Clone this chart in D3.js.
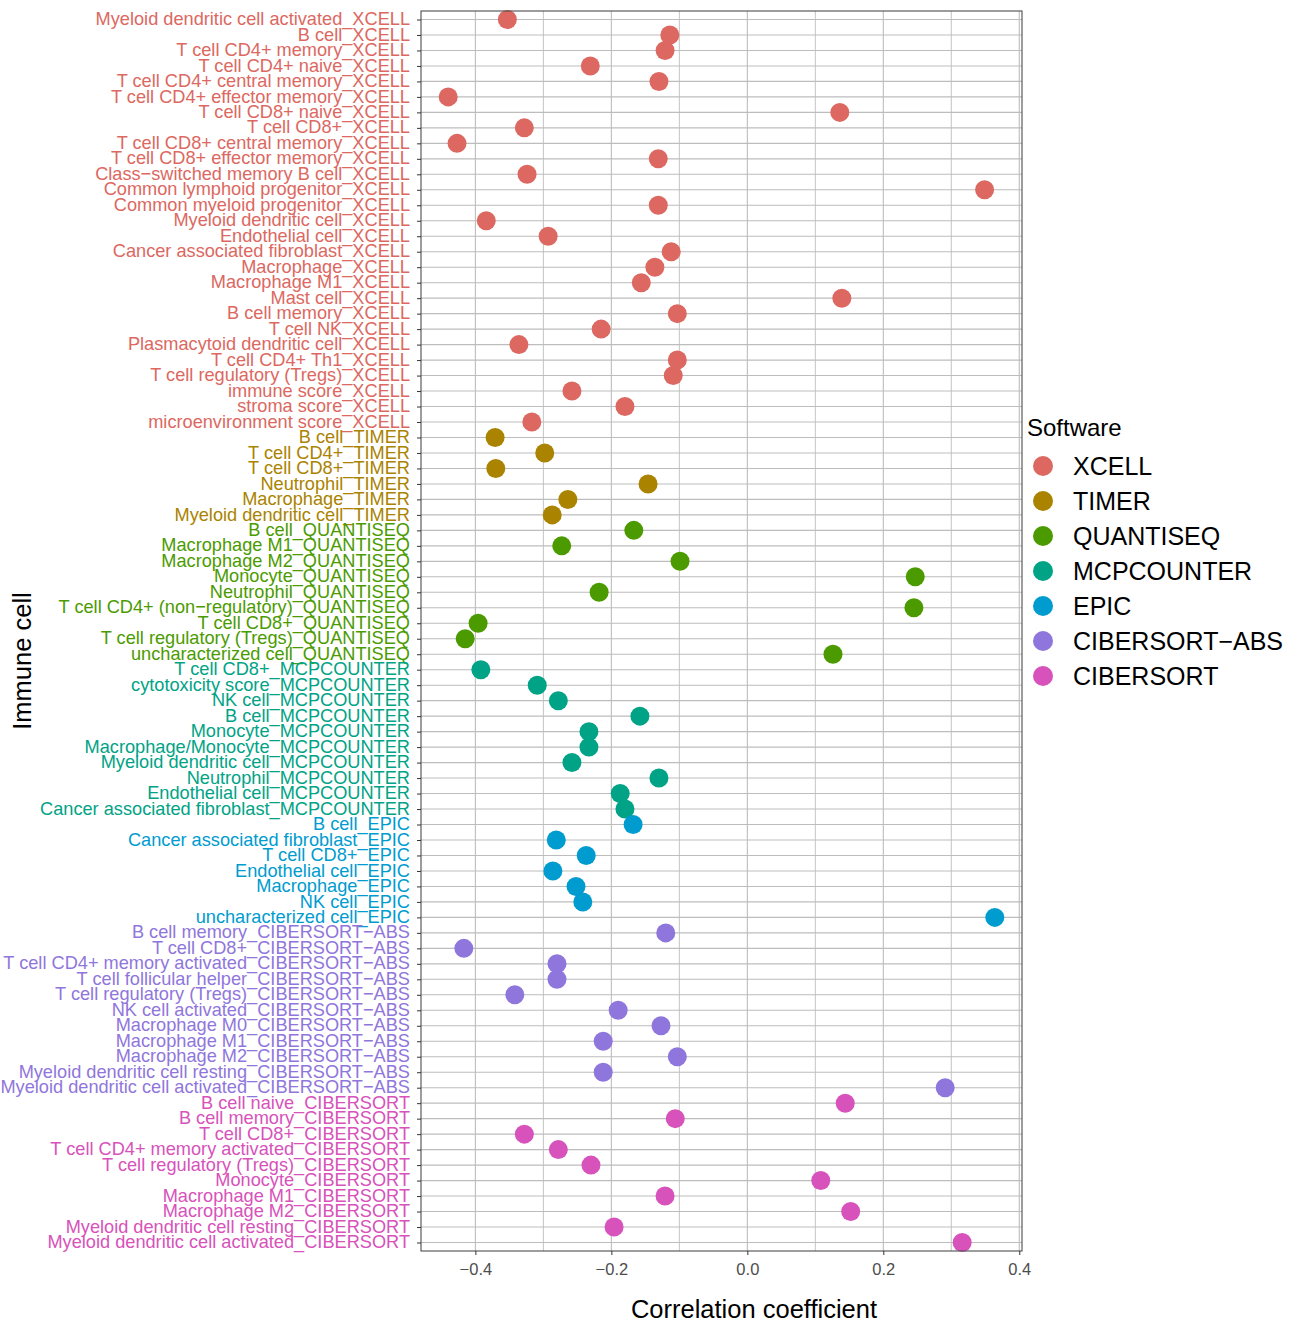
<!DOCTYPE html>
<html>
<head>
<meta charset="utf-8">
<script src="https://cdn.jsdelivr.net/npm/d3@7"></script>
<style>
  body { margin: 0; background: #fff; }
  svg { font-family: "Liberation Sans", Arial, sans-serif; }
</style>
</head>
<body>
<svg id="chart" width="1301" height="1324"></svg>
<script>
// software (legend order) and colours
const softwares = ["XCELL", "TIMER", "QUANTISEQ", "MCPCOUNTER", "EPIC", "CIBERSORT−ABS", "CIBERSORT"];
const softwareColors = ["#DC6861", "#AA8300", "#4B9B00", "#00A386", "#009CCF", "#8F76DC", "#D752BA"];

// immune cell labels, top to bottom
const cellLabels = [
  "Myeloid dendritic cell activated_XCELL", "B cell_XCELL", "T cell CD4+ memory_XCELL",
  "T cell CD4+ naive_XCELL", "T cell CD4+ central memory_XCELL", "T cell CD4+ effector memory_XCELL",
  "T cell CD8+ naive_XCELL", "T cell CD8+_XCELL", "T cell CD8+ central memory_XCELL",
  "T cell CD8+ effector memory_XCELL", "Class−switched memory B cell_XCELL", "Common lymphoid progenitor_XCELL",
  "Common myeloid progenitor_XCELL", "Myeloid dendritic cell_XCELL", "Endothelial cell_XCELL",
  "Cancer associated fibroblast_XCELL", "Macrophage_XCELL", "Macrophage M1_XCELL",
  "Mast cell_XCELL", "B cell memory_XCELL", "T cell NK_XCELL",
  "Plasmacytoid dendritic cell_XCELL", "T cell CD4+ Th1_XCELL", "T cell regulatory (Tregs)_XCELL",
  "immune score_XCELL", "stroma score_XCELL", "microenvironment score_XCELL",
  "B cell_TIMER", "T cell CD4+_TIMER", "T cell CD8+_TIMER",
  "Neutrophil_TIMER", "Macrophage_TIMER", "Myeloid dendritic cell_TIMER",
  "B cell_QUANTISEQ", "Macrophage M1_QUANTISEQ", "Macrophage M2_QUANTISEQ",
  "Monocyte_QUANTISEQ", "Neutrophil_QUANTISEQ", "T cell CD4+ (non−regulatory)_QUANTISEQ",
  "T cell CD8+_QUANTISEQ", "T cell regulatory (Tregs)_QUANTISEQ", "uncharacterized cell_QUANTISEQ",
  "T cell CD8+_MCPCOUNTER", "cytotoxicity score_MCPCOUNTER", "NK cell_MCPCOUNTER",
  "B cell_MCPCOUNTER", "Monocyte_MCPCOUNTER", "Macrophage/Monocyte_MCPCOUNTER",
  "Myeloid dendritic cell_MCPCOUNTER", "Neutrophil_MCPCOUNTER", "Endothelial cell_MCPCOUNTER",
  "Cancer associated fibroblast_MCPCOUNTER",
  "B cell_EPIC", "Cancer associated fibroblast_EPIC", "T cell CD8+_EPIC",
  "Endothelial cell_EPIC", "Macrophage_EPIC", "NK cell_EPIC", "uncharacterized cell_EPIC",
  "B cell memory_CIBERSORT−ABS", "T cell CD8+_CIBERSORT−ABS", "T cell CD4+ memory activated_CIBERSORT−ABS",
  "T cell follicular helper_CIBERSORT−ABS", "T cell regulatory (Tregs)_CIBERSORT−ABS", "NK cell activated_CIBERSORT−ABS",
  "Macrophage M0_CIBERSORT−ABS", "Macrophage M1_CIBERSORT−ABS", "Macrophage M2_CIBERSORT−ABS",
  "Myeloid dendritic cell resting_CIBERSORT−ABS", "Myeloid dendritic cell activated_CIBERSORT−ABS",
  "B cell naive_CIBERSORT", "B cell memory_CIBERSORT", "T cell CD8+_CIBERSORT",
  "T cell CD4+ memory activated_CIBERSORT", "T cell regulatory (Tregs)_CIBERSORT", "Monocyte_CIBERSORT",
  "Macrophage M1_CIBERSORT", "Macrophage M2_CIBERSORT", "Myeloid dendritic cell resting_CIBERSORT",
  "Myeloid dendritic cell activated_CIBERSORT"
];

// correlation coefficient for each label (same order)
const coefficients = [
  -0.353, -0.114, -0.121, -0.231, -0.130, -0.440, 0.136, -0.328, -0.427, -0.131,
  -0.324, 0.349, -0.131, -0.384, -0.293, -0.112, -0.136, -0.156, 0.139, -0.103,
  -0.215, -0.336, -0.103, -0.109, -0.258, -0.180, -0.317,
  -0.371, -0.298, -0.370, -0.146, -0.264, -0.287,
  -0.167, -0.273, -0.099, 0.247, -0.218, 0.245, -0.396, -0.415, 0.126,
  -0.392, -0.309, -0.278, -0.158, -0.233, -0.233, -0.258, -0.130, -0.187, -0.180,
  -0.168, -0.281, -0.237, -0.286, -0.252, -0.242, 0.364,
  -0.120, -0.417, -0.280, -0.280, -0.342, -0.190, -0.127, -0.212, -0.103, -0.212, 0.291,
  0.144, -0.106, -0.328, -0.278, -0.230, 0.108, -0.121, 0.152, -0.196, 0.316
];

const majorTicks = [-0.4, -0.2, 0.0, 0.2, 0.4];
const minorTicks = [-0.3, -0.1, 0.1, 0.3];

const softwareOf = (label) => label.slice(label.lastIndexOf("_") + 1);
const color = d3.scaleOrdinal().domain(softwares).range(softwareColors);

const rows = cellLabels.map((label, i) => ({
  label,
  value: coefficients[i],
  software: softwareOf(label),
}));

const panel = { left: 421, right: 1022, top: 11, bottom: 1251 };
const svg = d3.select("#chart");

const x = d3.scaleLinear().domain([-0.48, 0.404]).range([panel.left, panel.right]);
const y = d3.scalePoint().domain(cellLabels).range([19.5, 1242.5]);

// grid
const grid = svg.append("g");
grid.selectAll("line.minor")
  .data(minorTicks)
  .enter()
  .append("line")
  .attr("x1", (d) => x(d)).attr("x2", (d) => x(d))
  .attr("y1", panel.top).attr("y2", panel.bottom)
  .attr("stroke", "#C4C4C4").attr("stroke-width", 1);
grid.selectAll("line.major")
  .data(majorTicks)
  .enter()
  .append("line")
  .attr("x1", (d) => x(d)).attr("x2", (d) => x(d))
  .attr("y1", panel.top).attr("y2", panel.bottom)
  .attr("stroke", "#BDBDBD").attr("stroke-width", 1.1);
grid.selectAll("line.row")
  .data(cellLabels)
  .enter()
  .append("line")
  .attr("x1", panel.left).attr("x2", panel.right)
  .attr("y1", (d) => y(d)).attr("y2", (d) => y(d))
  .attr("stroke", "#BDBDBD").attr("stroke-width", 1.1);

// points
svg.append("g")
  .selectAll("circle")
  .data(rows)
  .enter()
  .append("circle")
  .attr("cx", (d) => x(d.value))
  .attr("cy", (d) => y(d.label))
  .attr("r", 9.5)
  .attr("fill", (d) => color(d.software));

// panel border
svg.append("rect")
  .attr("x", panel.left).attr("y", panel.top)
  .attr("width", panel.right - panel.left)
  .attr("height", panel.bottom - panel.top)
  .attr("fill", "none")
  .attr("stroke", "#4D4D4D")
  .attr("stroke-width", 1.1);

// x axis
const xAxis = svg.append("g")
  .attr("transform", `translate(0,${panel.bottom})`)
  .call(d3.axisBottom(x).tickValues(majorTicks).tickFormat(d3.format(".1f")).tickSizeOuter(0).tickSize(4).tickPadding(8));
xAxis.select(".domain").remove();
xAxis.selectAll("line").attr("stroke", "#333");
xAxis.selectAll("text")
  .attr("fill", "#4D4D4D")
  .style("font-size", "16.5px")
  .style("font-family", "\"Liberation Sans\", Arial, sans-serif")
  .text((d) => d3.format(".1f")(d).replace("-", "−"));

// y axis
const yAxis = svg.append("g")
  .attr("transform", `translate(${panel.left},0)`)
  .call(d3.axisLeft(y).tickSizeOuter(0).tickSize(4).tickPadding(7));
yAxis.select(".domain").remove();
yAxis.selectAll("line").attr("stroke", "#333");
yAxis.selectAll("text")
  .attr("fill", (d) => color(softwareOf(d)))
  .attr("dy", "0.28em")
  .style("font-size", "18.2px")
  .style("font-family", "\"Liberation Sans\", Arial, sans-serif");

// axis titles
svg.append("text")
  .attr("x", 754).attr("y", 1318)
  .attr("text-anchor", "middle")
  .style("font-size", "25.5px")
  .attr("fill", "#000")
  .text("Correlation coefficient");

svg.append("text")
  .attr("transform", "translate(31,661) rotate(-90)")
  .attr("text-anchor", "middle")
  .style("font-size", "25.5px")
  .attr("fill", "#000")
  .text("Immune cell");

// legend
const legend = svg.append("g").attr("transform", "translate(1027,0)");
legend.append("text")
  .attr("x", 0).attr("y", 436)
  .style("font-size", "24px")
  .attr("fill", "#000")
  .text("Software");
const item = legend.selectAll("g.item")
  .data(softwares)
  .enter()
  .append("g")
  .attr("transform", (d, i) => `translate(0,${466 + i * 35})`);
item.append("circle")
  .attr("cx", 16).attr("cy", 0).attr("r", 10)
  .attr("fill", (d) => color(d));
item.append("text")
  .attr("x", 46).attr("y", 0).attr("dy", "0.34em")
  .style("font-size", "25px")
  .attr("fill", "#000")
  .text((d) => d);
</script>
</body>
</html>
